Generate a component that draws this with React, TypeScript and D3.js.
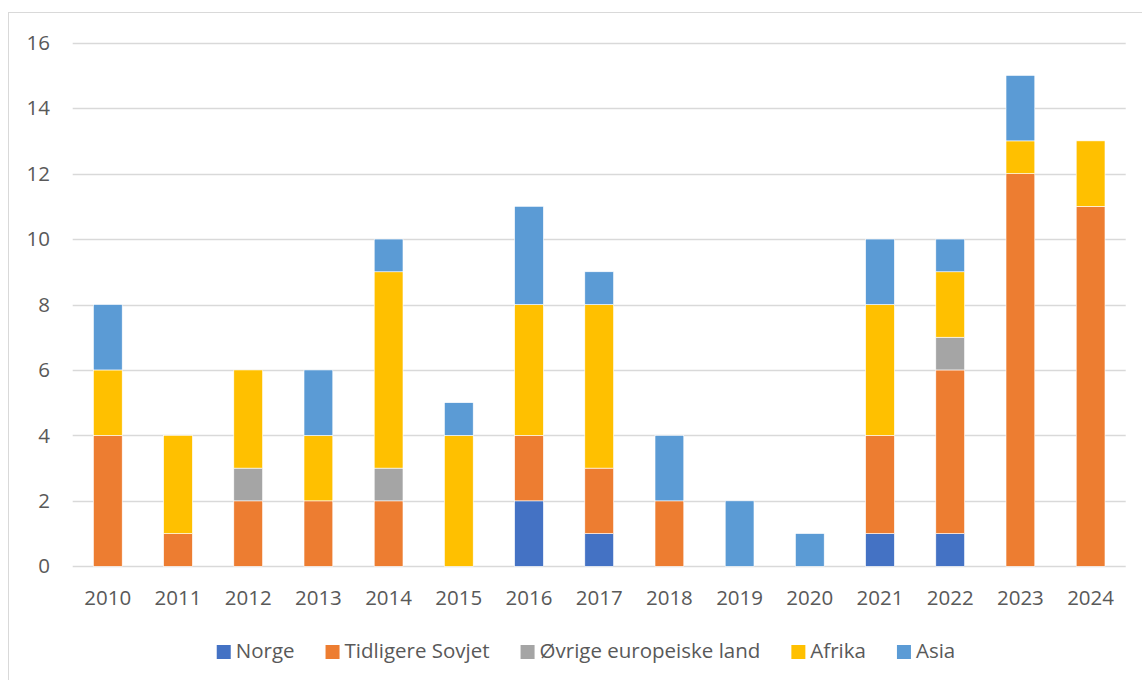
import React, { useEffect, useRef } from "react";
import * as d3 from "d3";

const years = ["2010", "2011", "2012", "2013", "2014", "2015", "2016", "2017", "2018", "2019", "2020", "2021", "2022", "2023", "2024"];
const seriesNames = ["Norge", "Tidligere Sovjet", "Øvrige europeiske land", "Afrika", "Asia"];
const seriesColors = ["#4472C4", "#ED7D31", "#A5A5A5", "#FFC000", "#5B9BD5"];

const norge = [0, 0, 0, 0, 0, 0, 2, 1, 0, 0, 0, 1, 1, 0, 0];
const tidligereSovjet = [4, 1, 2, 2, 2, 0, 2, 2, 2, 0, 0, 3, 5, 12, 11];
const ovrigeEuropeiske = [0, 0, 1, 0, 1, 0, 0, 0, 0, 0, 0, 0, 1, 0, 0];
const afrika = [2, 3, 3, 2, 6, 4, 4, 5, 0, 0, 0, 4, 2, 1, 2];
const asia = [2, 0, 0, 2, 1, 1, 3, 1, 2, 2, 1, 2, 1, 2, 0];

const yTicks = [0, 2, 4, 6, 8, 10, 12, 14, 16];

const W = 1142;
const H = 680;
const FONT = "'Open Sans', 'Noto Sans', sans-serif";
const FS = 20.5;
const TEXT = "#595959";

export default function App() {
  const ref = useRef<SVGSVGElement | null>(null);

  useEffect(() => {
    const svg = d3.select(ref.current);
    svg.selectAll("*").remove();

    // chart frame
    svg.append("rect")
      .attr("x", 8.5).attr("y", 12.5)
      .attr("width", W + 20).attr("height", H + 20)
      .attr("fill", "#fff").attr("stroke", "#D9D9D9").attr("stroke-width", 1);

    const left = 72.7, right = 1125.7, top = 42.7, bottom = 566.3;

    const x = d3.scaleBand<string>().domain(years).range([left, right]).paddingInner(0.59).paddingOuter(0.295);
    const y = d3.scaleLinear().domain([0, 16]).range([bottom, top]);

    // gridlines
    svg.append("g").selectAll("line").data(yTicks).join("line")
      .attr("x1", left).attr("x2", right)
      .attr("y1", d => Math.round(y(d)) + 0.5).attr("y2", d => Math.round(y(d)) + 0.5)
      .attr("stroke", "#D9D9D9").attr("stroke-width", 1.3);

    // y tick labels
    svg.append("g").selectAll("text").data(yTicks).join("text")
      .attr("x", 50).attr("y", d => y(d))
      .attr("dy", "0.35em").attr("text-anchor", "end")
      .attr("font-family", FONT).attr("font-size", FS).attr("fill", TEXT)
      .text(d => String(d));

    const rows = years.map((yr, i) => ({
      year: yr,
      Norge: norge[i],
      "Tidligere Sovjet": tidligereSovjet[i],
      "Øvrige europeiske land": ovrigeEuropeiske[i],
      Afrika: afrika[i],
      Asia: asia[i],
    }));
    const stacked = d3.stack<any>().keys(seriesNames)(rows);

    stacked.forEach((layer, si) => {
      svg.append("g").selectAll("rect").data(layer.filter(d => d[1] - d[0] > 0)).join("rect")
        .attr("x", d => x(d.data.year)!)
        .attr("width", x.bandwidth())
        .attr("y", d => y(d[1]))
        .attr("height", d => y(d[0]) - y(d[1]))
        .attr("fill", seriesColors[si])
        .attr("stroke", "#fff").attr("stroke-width", 0.6);
    });

    // x labels
    svg.append("g").selectAll("text").data(years).join("text")
      .attr("x", d => x(d)! + x.bandwidth() / 2).attr("y", 598)
      .attr("dy", "0.35em").attr("text-anchor", "middle")
      .attr("font-family", FONT).attr("font-size", FS).attr("fill", TEXT)
      .text(d => d);

    // legend
    const lg = svg.append("g");
    const items = seriesNames.map((name, i) => {
      const g = lg.append("g");
      g.append("rect").attr("x", 0).attr("y", -6).attr("width", 14).attr("height", 14).attr("fill", seriesColors[i]);
      const t = g.append("text").attr("x", 19).attr("y", 0).attr("dy", "0.35em")
        .attr("font-family", FONT).attr("font-size", FS).attr("fill", TEXT).text(name);
      const w = 19 + (t.node() as SVGTextElement).getComputedTextLength();
      return { g, w };
    });
    const gap = 31;
    const total = d3.sum(items, d => d.w) + gap * (items.length - 1);
    let cx = 586 - total / 2;
    items.forEach(it => {
      it.g.attr("transform", `translate(${cx},651)`);
      cx += it.w + gap;
    });
  }, []);

  return <svg ref={ref} width={W} height={H} style={{ display: "block", position: "absolute", left: 0, top: 0 }} />;
}
